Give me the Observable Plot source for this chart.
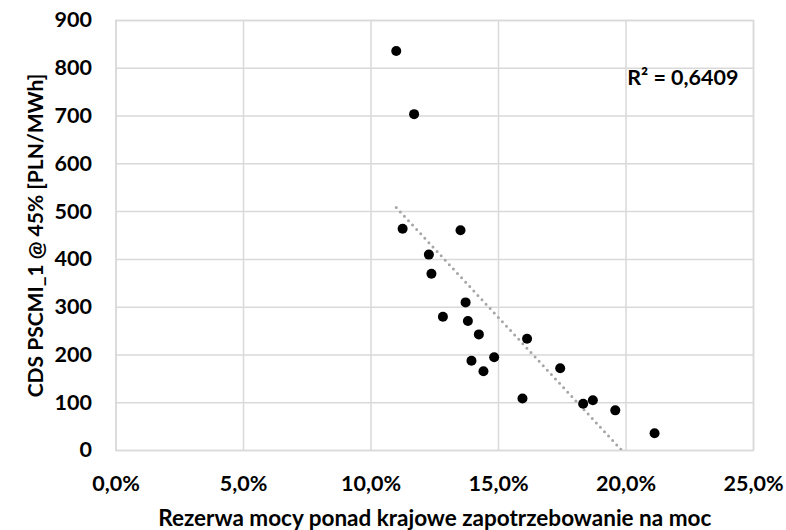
<!DOCTYPE html>
<html>
<head>
<meta charset="utf-8">
<script src="https://cdn.jsdelivr.net/npm/d3@7"></script>
<script src="https://cdn.jsdelivr.net/npm/@observablehq/plot@0.6"></script>
<style>
  html, body { margin: 0; padding: 0; background: #fff; }
</style>
</head>
<body>
<div id="chart"></div>
<script>
// Data
const reserve = [0.1099, 0.1169, 0.1124, 0.1351, 0.1227, 0.1237, 0.1371, 0.1282, 0.1380, 0.1423,
                 0.1612, 0.1394, 0.1483, 0.1441, 0.1742, 0.1594, 0.1832, 0.1870, 0.1958, 0.2112];
const cds = [836, 704, 464, 461, 410, 370, 310, 280, 271, 243,
             234, 188, 195, 166, 172, 109, 98, 105, 84, 36];
const xTicks = [0, 0.05, 0.10, 0.15, 0.20, 0.25];
const yTicks = [0, 100, 200, 300, 400, 500, 600, 700, 800, 900];
const xTitle = "Rezerwa mocy ponad krajowe zapotrzebowanie na moc";
const yTitle = "CDS PSCMI_1 @ 45% [PLN/MWh]";
const r2Label = "R² = 0,6409";

const points = reserve.map((r, i) => ({x: r, y: cds[i]}));
const pl = d3.formatLocale({decimal: ",", thousands: " ", grouping: [3], currency: ["", ""]});
const pct = pl.format(".1%");

const chart = Plot.plot({
  width: 786,
  height: 530,
  marginLeft: 115.5,
  marginRight: 33,
  marginTop: 20,
  marginBottom: 80,
  style: {fontFamily: "Lato, 'Open Sans', sans-serif", fontWeight: "bold", fontSize: "21px", color: "#000", background: "#fff"},
  x: {domain: [0, 0.25], ticks: xTicks},
  y: {domain: [0, 900], ticks: yTicks},
  marks: [
    Plot.gridX(xTicks, {stroke: "#d9d9d9", strokeOpacity: 1, strokeWidth: 1.5}),
    Plot.gridY(yTicks, {stroke: "#d9d9d9", strokeOpacity: 1, strokeWidth: 1.5}),
    Plot.frame({stroke: "#d9d9d9", strokeWidth: 1.5}),
    Plot.axisX(xTicks, {tickSize: 0, tickPadding: 25, tickFormat: pct, label: null, fontSize: 21.5, fontWeight: "bold"}),
    Plot.axisY(yTicks, {tickSize: 0, tickPadding: 24, label: null, fontSize: 21.5, fontWeight: "bold"}),
    Plot.linearRegressionY(points, {x: "x", y: "y", ci: 0, stroke: "#a6a6a6", strokeWidth: 3,
      strokeDasharray: "0,6", strokeLinecap: "round", clip: true}),
    Plot.dot(points, {x: "x", y: "y", r: 5, fill: "#000", stroke: "none"}),
    Plot.text([r2Label], {frameAnchor: "top-right", dx: -15, dy: 58, textAnchor: "end", lineAnchor: "middle",
      fontSize: 21.5, fontWeight: "bold", fill: "#000"}),
    Plot.text([xTitle], {frameAnchor: "bottom", dy: 68, textAnchor: "middle", lineAnchor: "middle", fontSize: 22.5, fontWeight: "bold", fill: "#000"}),
    Plot.text([yTitle], {frameAnchor: "left", dx: -80, rotate: -90, textAnchor: "middle", lineAnchor: "middle", fontSize: 21, fontWeight: "bold", fill: "#000"})
  ]
});
document.getElementById("chart").appendChild(chart);
</script>
</body>
</html>
